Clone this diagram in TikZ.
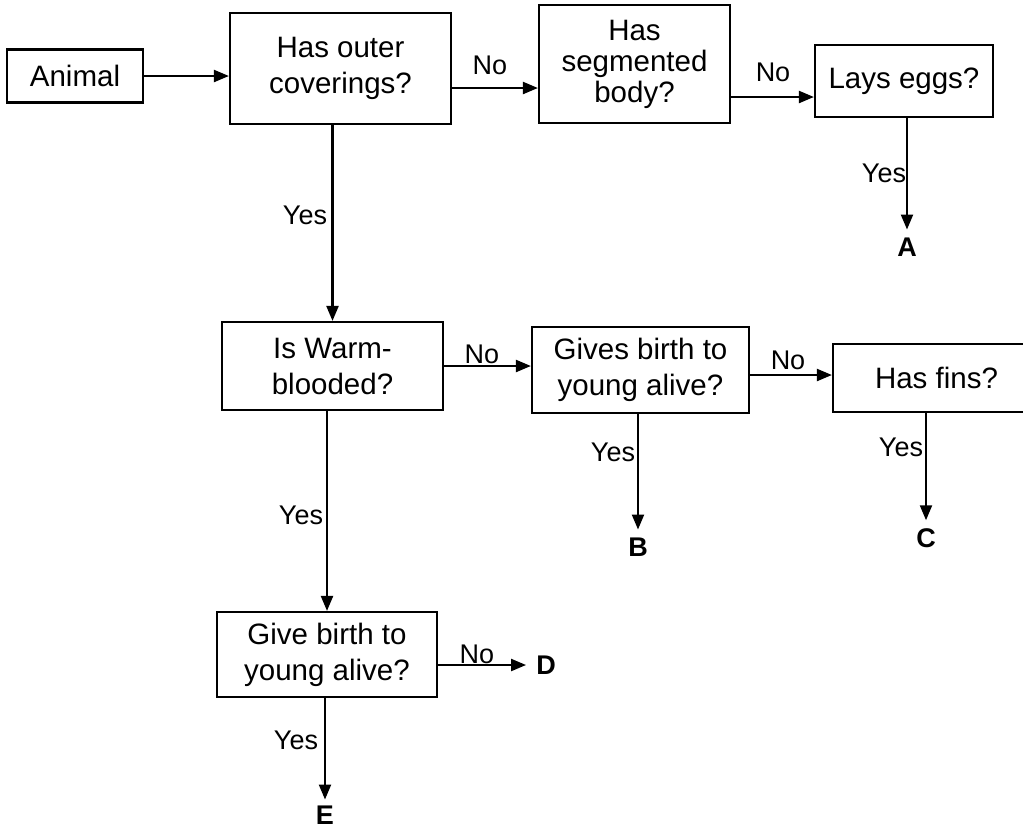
\documentclass[tikz,border=0pt]{standalone}
\usepackage{fontspec}
\setmainfont{Liberation Sans}
\usetikzlibrary{arrows.meta}
\begin{document}
\begin{tikzpicture}[x=1pt,y=-1pt,
 box/.style={draw,line width=2.2pt,inner sep=0pt,align=center,font=\fontsize{29.5}{36}\selectfont},
 lbl/.style={font=\fontsize{27}{32}\selectfont,inner sep=0pt},
 leaf/.style={font=\fontsize{27}{32}\selectfont\bfseries,inner sep=0pt},
 arr/.style={line width=2.2pt,-{Triangle[length=15pt,width=12pt]}}]
\useasboundingbox (0,0) rectangle (1023,831);
\clip (0,0) rectangle (1023,831);
% boxes
\node[box,minimum width=136pt,minimum height=53pt] (animal) at (75,76) {Animal};
\node[box,minimum width=221pt,minimum height=111pt] (outer) at (340.5,68.5) {Has outer\\coverings?};
\node[box,minimum width=191pt,minimum height=118pt,font=\fontsize{29.5}{31}\selectfont] (seg) at (634.5,64) {Has\\segmented\\body?};
\node[box,minimum width=178pt,minimum height=72pt] (lays) at (904,81) {Lays eggs?};
\node[box,minimum width=221pt,minimum height=88pt] (warm) at (332.5,366) {Is Warm-\\blooded?};
\node[box,minimum width=217pt,minimum height=86pt] (gives) at (640.5,370) {Gives birth to\\young alive?};
\node[box,minimum width=207pt,minimum height=68pt] (fins) at (936.5,378) {Has fins?};
\node[box,minimum width=220pt,minimum height=85pt] (give) at (327,654.5) {Give birth to\\young alive?};
% leaves
\node[leaf] (A) at (907,247) {A};
\node[leaf] (B) at (638,547) {B};
\node[leaf] (C) at (926,538) {C};
\node[leaf] (D) at (546,665) {D};
\node[leaf] (E) at (325,815) {E};
% connectors
\draw[arr] (animal.east) -- (animal.east -| outer.west);
\draw[arr] ([yshift=-19.5pt]outer.east) -- ([yshift=-19.5pt]outer.east -| seg.west);
\draw[arr] ([yshift=-33pt]seg.east) -- ([yshift=-33pt]seg.east -| lays.west);
\draw[arr] (outer.south -| warm.north) -- (warm.north);
\draw[arr] (lays.south -| A.north) -- ([yshift=8pt]A.north);
\draw[arr] (warm.east) -- (warm.east -| gives.west);
\draw[arr] ([yshift=-5pt]gives.east) -- ([yshift=-5pt]gives.east -| fins.west);
\draw[arr] (gives.south -| B.north) -- ([yshift=8pt]B.north);
\draw[arr] (fins.south -| C.north) -- ([yshift=8pt]C.north);
\draw[arr] (warm.south -| give.north) -- (give.north);
\draw[arr,shorten >=10pt] ([yshift=-10.5pt]give.east) -- (D.west);
\draw[arr] (give.south -| E.north) -- ([yshift=6pt]E.north);
% labels
\node[lbl] (l1) at (490,65) {No};
\node[lbl] (l2) at (773,72) {No};
\node[lbl] (l3) at (305,215) {Yes};
\node[lbl] (l4) at (884,173) {Yes};
\node[lbl] (l5) at (482,354) {No};
\node[lbl] (l6) at (788,360) {No};
\node[lbl] (l7) at (613,452) {Yes};
\node[lbl] (l8) at (901,447) {Yes};
\node[lbl] (l9) at (301,515) {Yes};
\node[lbl] (l10) at (477,654) {No};
\node[lbl] (l11) at (296,740) {Yes};
\end{tikzpicture}
\end{document}
